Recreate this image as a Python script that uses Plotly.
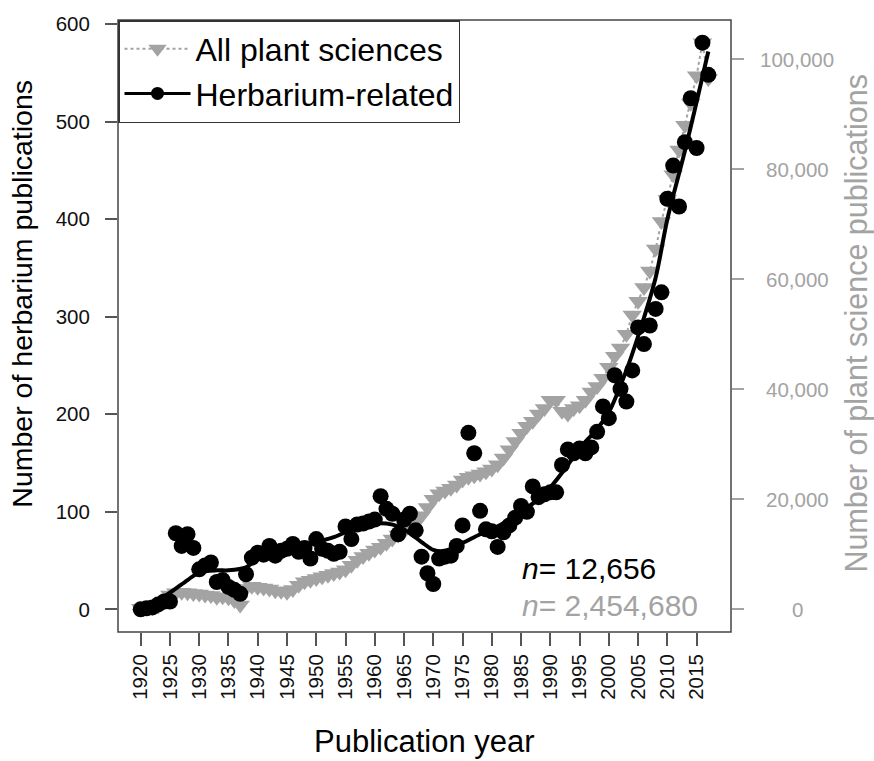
import plotly.graph_objects as go

years = list(range(1920, 2018))

herbarium = [0, 1, 2, 5, 8, 8, 78, 65, 77, 63,
             41, 45, 48, 28, 30, 23, 20, 16, 36, 53,
             58, 56, 65, 55, 60, 62, 67, 59, 63, 52,
             72, 62, 60, 57, 59, 85, 72, 87, 88, 90,
             92, 116, 103, 98, 77, 92, 98, 81, 54, 37,
             26, 52, 54, 55, 65, 86, 181, 160, 101, 82,
             80, 64, 79, 86, 94, 106, 100, 126, 115, 118,
             120, 120, 148, 164, 160, 165, 160, 166, 182, 208,
             196, 240, 226, 213, 245, 289, 272, 291, 308, 325,
             421, 455, 413, 479, 524, 473, 581, 548]

plant_sciences = [200, 300, 400, 600, 1500, 2600, 3000, 3100, 3000, 2900,
                  2800, 2600, 2500, 2200, 2300, 2100, 1600, 800, 3800, 4200,
                  4000, 3900, 3700, 3400, 3300, 3100, 3600, 4400, 5000, 5300,
                  5600, 5900, 6200, 6500, 6800, 7200, 8000, 8900, 9600, 10200,
                  10800, 11300, 12000, 12800, 13500, 14200, 14900, 15800, 17000, 18500,
                  20000, 21000, 21500, 22000, 22600, 23500, 24000, 24300, 24600, 25000,
                  25500, 26300, 27500, 29000, 30500, 32000, 33300, 34200, 35500, 36500,
                  38000, 38000, 36000, 35500, 36500, 37000, 38000, 39500, 40500, 42000,
                  44000, 46000, 47500, 50000, 53500, 56000, 58500, 61500, 65500, 70500,
                  74500, 79000, 83500, 88000, 92000, 97000, 103000, 96500]

smooth_years = [1920, 1922, 1925, 1928, 1930, 1933, 1935, 1938, 1940, 1943,
                1945, 1948, 1950, 1953, 1955, 1958, 1960, 1962, 1964, 1966,
                1968, 1970, 1972, 1975, 1978, 1980, 1983, 1985, 1988, 1990,
                1993, 1995, 1998, 2000, 2003, 2005, 2008, 2010, 2013, 2015, 2017]
smooth_vals = [1, 6, 17, 30, 38, 40, 40, 43, 52, 58,
               63, 66, 69, 74, 79, 85, 88, 88, 85, 78,
               69, 61, 60, 68, 77, 82, 92, 100, 113, 125,
               148, 165, 185, 202, 245, 280, 340, 400, 470, 520, 572]

x_ticks = list(range(1920, 2016, 5))
left_ticks = [0, 100, 200, 300, 400, 500, 600]
right_ticks = [0, 20000, 40000, 60000, 80000, 100000]
right_tick_labels = ["0", "20,000", "40,000", "60,000", "80,000", "100,000"]

GRAY = "#a3a3a3"
FONT = "Liberation Sans"

fig = go.Figure()

# gray series on primary (right-side) axis so black draws on top
fig.add_trace(go.Scatter(
    x=years, y=plant_sciences, name="All plant sciences", yaxis="y",
    mode="lines+markers",
    line=dict(color=GRAY, width=2, dash="dot"),
    marker=dict(symbol="triangle-down", size=17, color=GRAY),
))
fig.add_trace(go.Scatter(
    x=[None], y=[None], name="Herbarium-related", yaxis="y2",
    mode="lines+markers",
    line=dict(color="black", width=3),
    marker=dict(symbol="circle", size=13, color="black"),
))
fig.add_trace(go.Scatter(
    x=years, y=herbarium, yaxis="y2", mode="markers",
    marker=dict(symbol="circle", size=16, color="black"),
    showlegend=False,
))
fig.add_trace(go.Scatter(
    x=smooth_years, y=smooth_vals, yaxis="y2", mode="lines",
    line=dict(color="black", width=4, shape="spline", smoothing=0.8),
    showlegend=False,
))

fig.update_layout(
    width=874, height=761,
    margin=dict(l=118, r=143, t=14, b=129),
    plot_bgcolor="white", paper_bgcolor="white",
    font=dict(family=FONT, color="black"),
    showlegend=True,
    legend=dict(x=0, y=1, xanchor="left", yanchor="top",
                bgcolor="white", bordercolor="#333333", borderwidth=1.5,
                font=dict(size=32, family=FONT), tracegroupgap=0,
                itemwidth=66),
    xaxis=dict(range=[1916.12, 2020.88], tickvals=x_ticks, tickangle=-90,
               ticks="outside", ticklen=13, tickcolor="#555555", tickwidth=1.5,
               tickfont=dict(size=20.5, family=FONT, color="#111111"),
               showgrid=False, zeroline=False, showline=False),
    yaxis=dict(range=[-4120, 107120], side="right", tickvals=right_ticks,
               ticks="outside", ticklen=12, tickcolor=GRAY, tickwidth=1.5,
               showticklabels=False, showgrid=False, zeroline=False, showline=False),
    yaxis2=dict(range=[-23.24, 604.24], side="left", overlaying="y",
                tickvals=left_ticks, ticks="outside", ticklen=12,
                tickcolor="#555555", tickwidth=1.5, ticklabelstandoff=11,
                tickfont=dict(size=20.5, family=FONT, color="#111111"),
                showgrid=False, zeroline=False, showline=False),
)

# plot box
fig.add_shape(type="rect", xref="paper", yref="paper", x0=0, y0=0, x1=1, y1=1,
              line=dict(color="#444444", width=1.5), layer="above")

ann = []
for v, t in zip(right_ticks, right_tick_labels):
    ann.append(dict(x=1.1077, y=v, xref="paper", yref="y", text=t, showarrow=False,
                    xanchor="center", yanchor="middle",
                    font=dict(size=20.5, family=FONT, color=GRAY)))
ann.append(dict(x=-0.156, y=0.5534, xref="paper", yref="paper",
                text="Number of herbarium publications", textangle=-90,
                showarrow=False, xanchor="center", yanchor="middle",
                font=dict(size=28.5, family=FONT, color="black")))
ann.append(dict(x=1.2055, y=0.504, xref="paper", yref="paper",
                text="Number of plant science publications", textangle=-90,
                showarrow=False, xanchor="center", yanchor="middle",
                font=dict(size=30.5, family=FONT, color=GRAY)))
ann.append(dict(x=0.5008, y=-0.1796, xref="paper", yref="paper",
                text="Publication year", showarrow=False,
                xanchor="center", yanchor="middle",
                font=dict(size=31, family=FONT, color="black")))
ann.append(dict(x=0.6558, y=0.1044, xref="paper", yref="paper",
                text="<i>n</i>= 12,656", showarrow=False,
                xanchor="left", yanchor="middle",
                font=dict(size=30, family=FONT, color="black")))
ann.append(dict(x=0.6558, y=0.0437, xref="paper", yref="paper",
                text="<i>n</i>= 2,454,680", showarrow=False,
                xanchor="left", yanchor="middle",
                font=dict(size=30, family=FONT, color=GRAY)))
fig.update_layout(annotations=ann)

fig.write_html("out.html", config={"displayModeBar": False},
               post_script="document.body.style.margin='0px';")
